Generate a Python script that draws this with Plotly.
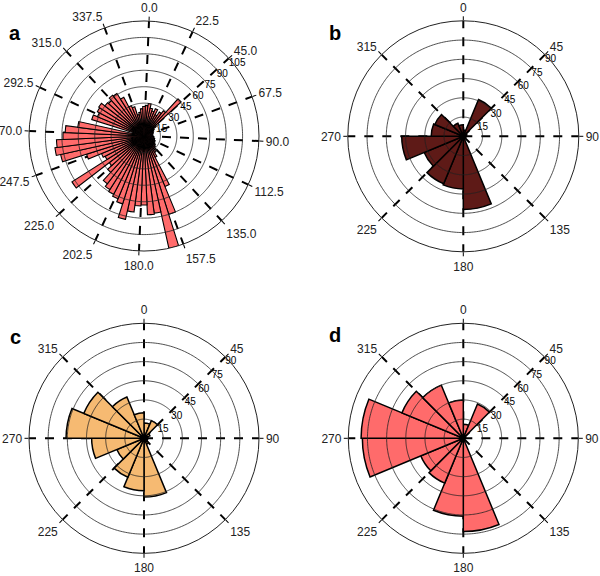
import numpy as np
import plotly.graph_objects as go

# ---------------- data ----------------
# panel a: 72 bins of 5 degrees, starting at 0 (compass, clockwise)
a_counts = [28, 30, 26, 24, 27, 22, 26, 29, 46, 14,
            11, 10, 9, 9, 8, 8, 8, 8, 9, 9,
            10, 10, 11, 11, 12, 13, 14, 16, 18, 22,
            50, 75, 105, 71, 72, 63, 64, 70, 78, 65,
            62, 60, 58, 55, 45, 40, 78, 40, 42, 55,
            78, 82, 80, 74, 72, 61, 10, 50, 46, 48,
            49, 45, 44, 47, 46, 40, 30, 28, 20, 22,
            25, 27]
a_binwidth = 5.0

# panels b, c, d: 16 bins of 22.5 degrees, starting at 0
b_counts = [5, 31, 3, 2, 2, 2, 0, 57, 41, 40, 33, 48, 25, 24, 11, 9]
c_counts = [12, 15, 5, 3, 2, 3, 5, 46, 41, 33, 23, 41, 61, 51, 35, 20]
d_counts = [11, 29, 2, 1, 1, 1, 0, 73, 61, 38, 36, 79, 80, 52, 45, 30]
bcd_binwidth = 22.5

a_angle_ticks = [0.0, 22.5, 45.0, 67.5, 90.0, 112.5, 135.0, 157.5,
                 180.0, 202.5, 225.0, 247.5, 270.0, 292.5, 315.0, 337.5]
bcd_angle_ticks = [0, 45, 90, 135, 180, 225, 270, 315]
a_radial_ticks = [15, 30, 45, 60, 75, 90, 105]
bcd_radial_ticks = [15, 30, 45, 60, 75, 90]
radial_label_direction = 45  # compass direction along which radial labels sit

panel_letters = ["a", "b", "c", "d"]

# ---------------- styling ----------------
col_a = "#FF6B6B"
col_b = "#5E1A17"
col_c = "#F6BA72"
col_d = "#FF6B6B"

W, H = 600, 576
FONT = "Liberation Sans, Arial, sans-serif"


def dom(cx, cy, r):
    return dict(x=[(cx - r) / W, (cx + r) / W],
                y=[1 - (cy + r) / H, 1 - (cy - r) / H])


fig = go.Figure()

panels = [
    ("polar", a_counts, a_binwidth, col_a, 1.1),
    ("polar2", b_counts, bcd_binwidth, col_b, 1.5),
    ("polar3", c_counts, bcd_binwidth, col_c, 1.5),
    ("polar4", d_counts, bcd_binwidth, col_d, 1.5),
]
rticks = [a_radial_ticks, bcd_radial_ticks, bcd_radial_ticks, bcd_radial_ticks]

circ_theta = np.linspace(0, 360, 361)
for (sp, counts, bw, col, lw), rt in zip(panels, rticks):
    fig.add_trace(go.Barpolar(
        r=counts, theta0=bw / 2, dtheta=bw, width=[bw] * len(counts),
        marker=dict(color=col, line=dict(color="black", width=lw)),
        subplot=sp, showlegend=False, hoverinfo="skip"))
    # concentric grid circles drawn over the bars
    for rv in rt[:-1]:
        fig.add_trace(go.Scatterpolar(
            r=[rv] * len(circ_theta), theta=circ_theta, mode="lines",
            line=dict(color="#222222", width=0.8),
            subplot=sp, showlegend=False, hoverinfo="skip"))
    # radial tick labels, just below-right of each tick position on the 45 line
    fig.add_trace(go.Scatterpolar(
        r=rt, theta=[radial_label_direction] * len(rt), mode="text",
        text=[str(v) for v in rt], textposition="bottom right",
        textfont=dict(size=10, color="black", family=FONT),
        subplot=sp, showlegend=False, hoverinfo="skip", cliponaxis=False))


def polar_layout(domain, ticks, texts, rmax, rotation):
    return dict(
        domain=domain,
        bgcolor="white",
        hole=0,
        angularaxis=dict(
            rotation=rotation, direction="clockwise",
            tickmode="array", tickvals=ticks, ticktext=texts,
            showgrid=True, gridcolor="black", griddash="dash", gridwidth=1.7,
            showline=True, linecolor="#222222", linewidth=1,
            ticks="outside", ticklen=4, tickcolor="black", tickwidth=1.4,
            tickfont=dict(size=12, color="#222222", family=FONT),
        ),
        radialaxis=dict(
            range=[0, rmax], showticklabels=False, showline=False,
            showgrid=False, ticks="",
        ),
    )


fig.update_layout(
    width=W, height=H,
    margin=dict(l=0, r=0, t=0, b=0),
    paper_bgcolor="white",
    font=dict(family=FONT),
    polar=polar_layout(dom(144, 136, 115), a_angle_ticks,
                       [f"{v:.1f}" for v in a_angle_ticks], 105, 87.5),
    polar2=polar_layout(dom(463.3, 136.3, 115.5), bcd_angle_ticks,
                        [str(v) for v in bcd_angle_ticks], 90, 90),
    polar3=polar_layout(dom(144, 438.3, 115), bcd_angle_ticks,
                        [str(v) for v in bcd_angle_ticks], 90, 90),
    polar4=polar_layout(dom(463.3, 438.3, 115), bcd_angle_ticks,
                        [str(v) for v in bcd_angle_ticks], 90, 90),
)

letter_pos = [(15, 33), (335, 33), (15, 337), (335, 335)]
for letter, (px, py) in zip(panel_letters, letter_pos):
    fig.add_annotation(x=px / W, y=1 - py / H,
                       xref="paper", yref="paper",
                       xanchor="center", yanchor="middle",
                       text=f"<b>{letter}</b>", showarrow=False,
                       font=dict(size=20, color="black", family=FONT))

# remove the default page margin so the 600x576 figure fills the window
fig.write_html("out.html", config={"displayModeBar": False},
               post_script="document.body.style.margin='0';")
